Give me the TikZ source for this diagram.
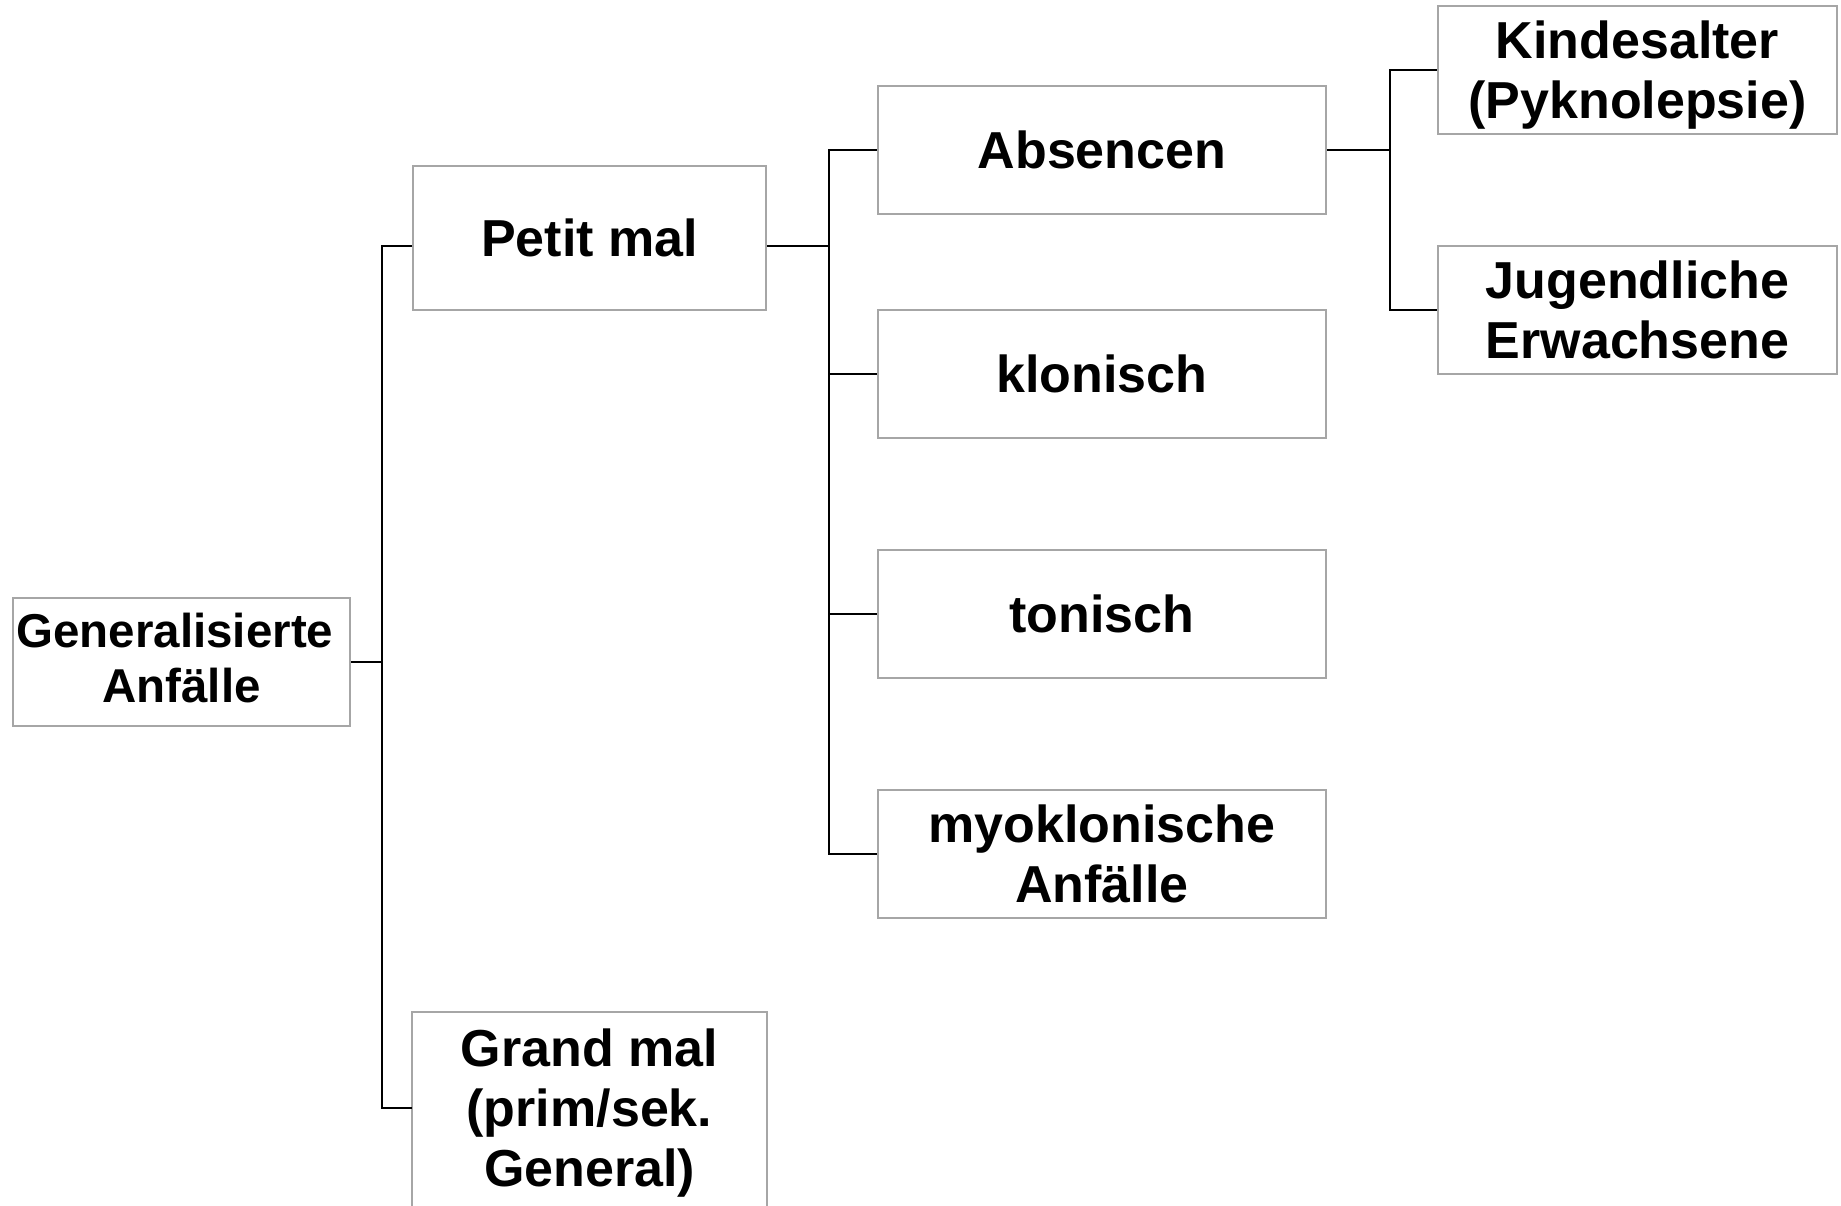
\documentclass[tikz,border=0pt]{standalone}
\usepackage{fontspec}
\setmainfont{Liberation Sans}
\definecolor{boxgray}{HTML}{A6A6A6}
\begin{document}
\begin{tikzpicture}[x=1pt,y=-1pt,
  box/.style={draw=boxgray, line width=2pt, fill=white, inner sep=0pt,
    align=center, font=\bfseries\fontsize{52}{60}\selectfont, text depth=0pt},
  one/.style={text height=37pt},
  two/.style={text height=97pt},
  three/.style={text height=157pt},
  link/.style={draw=black, line width=2pt}]
  % canvas
  \useasboundingbox (0,0) rectangle (1841,1205);
  \fill[white] (0,0) rectangle (1841,1205);

  % root
  \node[box, minimum width=337pt, minimum height=128pt,
        font=\bfseries\fontsize{47.5}{55}\selectfont, text height=89pt, text depth=8pt]
        (gen) at (181.5,662) {Generalisierte\hspace*{0.28em}\\Anfälle};

  % second level
  \node[box, one, minimum width=353pt, minimum height=144pt] (pm) at (589.5,238) {Petit mal};
  \node[box, three, draw=none, fill=none, minimum width=353pt, minimum height=190pt]
        (gm) at (589.5,1108) {Grand mal\\(prim/sek.\\General)};
  \draw[boxgray, line width=2pt]
    ([yshift=-6pt]gm.south west) -- (gm.north west) -- (gm.north east) -- ([yshift=-6pt]gm.south east);

  % petit mal forms
  \node[box, one, minimum width=448pt, minimum height=128pt] (abs) at (1102,150) {Absencen};
  \node[box, one, minimum width=448pt, minimum height=128pt] (klo) at (1102,374) {klonisch};
  \node[box, one, minimum width=448pt, minimum height=128pt] (ton) at (1102,614) {tonisch};
  \node[box, two, minimum width=448pt, minimum height=128pt] (myo) at (1102,854) {myoklonische\\Anfälle};

  % absence types
  \node[box, two, minimum width=399pt, minimum height=128pt] (kin) at (1637.5,70) {Kindesalter\\(Pyknolepsie)};
  \node[box, two, minimum width=399pt, minimum height=128pt] (jug) at (1637.5,310) {Jugendliche\\Erwachsene};

  % junction points of the tree
  \coordinate (j1) at (382,662);
  \coordinate (j2) at (829,246);
  \coordinate (j3) at (1390,150);

  % connectors
  \draw[link] (gen.east) -- (j1);
  \draw[link] (j1) |- ([yshift=-8pt]pm.west);
  \draw[link] (j1) |- (gm.west);

  \draw[link] ([yshift=-8pt]pm.east) -- (j2);
  \draw[link] (j2) |- (abs.west);
  \draw[link] (j2) |- (klo.west);
  \draw[link] (j2) |- (ton.west);
  \draw[link] (j2) |- (myo.west);

  \draw[link] (abs.east) -- (j3);
  \draw[link] (j3) |- (kin.west);
  \draw[link] (j3) |- (jug.west);
\end{tikzpicture}
\end{document}
